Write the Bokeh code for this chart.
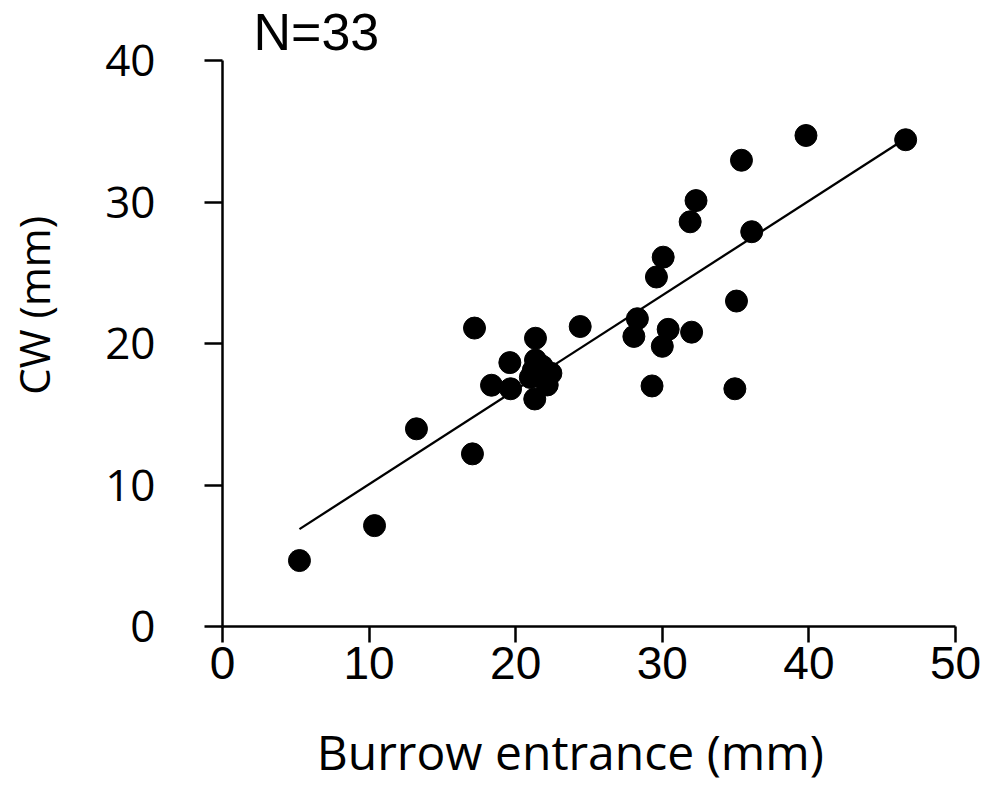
import numpy as np
from bokeh.plotting import figure
from bokeh.models import Range1d, FixedTicker, Title
from bokeh.embed import file_html
from bokeh.resources import INLINE

# Data
burrow_entrance = [5.25, 10.37, 13.23, 17.05, 17.19, 18.35, 19.6, 19.65, 21.35, 21.35,
                   21.2, 22.4, 22.15, 21.3, 21.0, 21.8, 24.4, 28.3, 28.06, 30.4,
                   30.0, 32.0, 29.3, 34.95, 35.06, 29.6, 30.06, 31.9, 32.3, 36.1,
                   35.4, 39.8, 46.6]
cw = [4.66, 7.13, 13.97, 12.2, 21.09, 17.05, 18.65, 16.8, 20.37, 18.83,
      18.1, 17.9, 17.07, 16.08, 17.6, 18.4, 21.2, 21.75, 20.5, 21.0,
      19.8, 20.8, 17.0, 16.8, 23.0, 24.7, 26.1, 28.6, 30.1, 27.9,
      32.95, 34.7, 34.4]
x_ticks = [0, 10, 20, 30, 40, 50]
y_ticks = [0, 10, 20, 30, 40]
n_label = "N=33"
x_title = "Burrow entrance (mm)"
y_title = "CW (mm)"

NBSP = "\u00a0"

# Least-squares trend line
slope, intercept = np.polyfit(burrow_entrance, cw, 1)
line_x = [min(burrow_entrance), max(burrow_entrance)]
line_y = [slope * v + intercept for v in line_x]

p = figure(width=981, height=786, output_backend="svg", toolbar_location=None,
           x_range=Range1d(0, 50), y_range=Range1d(0, 40),
           min_border_left=222, min_border_right=26, min_border_top=60,
           min_border_bottom=159)
p.outline_line_color = None
p.xgrid.visible = False
p.ygrid.visible = False
p.background_fill_color = "white"

p.line(line_x, line_y, line_color="black", line_width=2.3)
p.scatter(burrow_entrance, cw, size=22, fill_color="black", line_color="black")

for ax in (p.xaxis[0], p.yaxis[0]):
    ax.axis_line_width = 2.5
    ax.major_tick_line_width = 2.5
    ax.minor_tick_line_color = None
    ax.major_tick_in = 0
    ax.axis_label_text_font_style = "normal"
    ax.axis_label_text_color = "black"
    ax.major_label_text_color = "black"

p.xaxis.ticker = FixedTicker(ticks=x_ticks)
p.yaxis.ticker = FixedTicker(ticks=y_ticks)

p.xaxis.major_tick_out = 16
p.xaxis.major_label_standoff = 4
p.xaxis.major_label_text_font = "Liberation Sans"
p.xaxis.major_label_text_font_size = "46px"
# trailing no-break spaces nudge the centred title slightly left, as in the reference
p.xaxis.axis_label = x_title + NBSP * 3
p.xaxis.axis_label_text_font = "Open Sans"
p.xaxis.axis_label_text_font_size = "48px"
p.xaxis.axis_label_standoff = 37

p.yaxis.major_tick_out = 18
p.yaxis.major_label_standoff = 49
p.yaxis.major_label_text_font = "Open Sans"
p.yaxis.major_label_text_font_size = "44px"
# leading no-break spaces nudge the centred title upward, as in the reference
p.yaxis.axis_label = NBSP * 7 + y_title
p.yaxis.axis_label_text_font = "Open Sans"
p.yaxis.axis_label_text_font_size = "42px"
p.yaxis.axis_label_standoff = 40

# "N=33" annotation above the plot area
p.add_layout(Title(text=n_label, align="left", offset=31, standoff=0,
                   text_font="Liberation Sans", text_font_size="52px",
                   text_font_style="normal", text_color="black",
                   text_line_height=1.0), "above")

open("out.html", "w").write(file_html(p, INLINE))
